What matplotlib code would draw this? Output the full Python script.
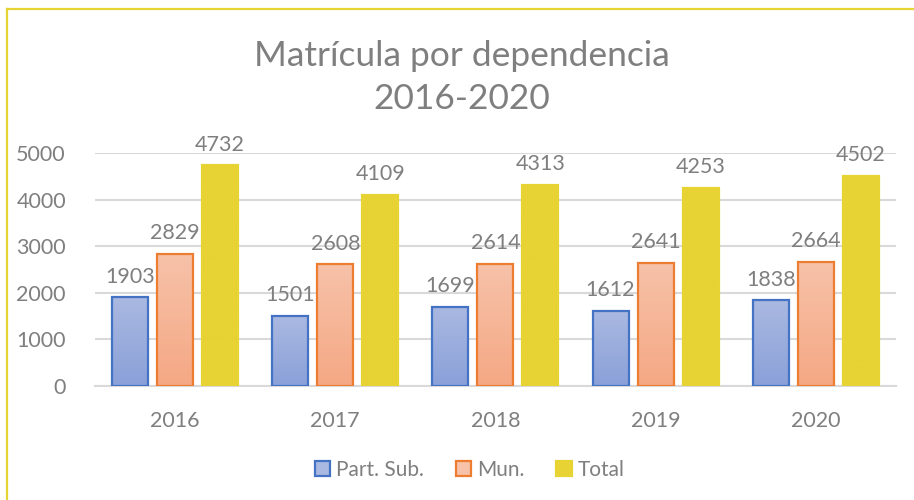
import matplotlib
matplotlib.use("Agg")
import matplotlib.pyplot as plt
import matplotlib.patches as mpatches
from matplotlib.colors import LinearSegmentedColormap
from matplotlib.lines import Line2D
import numpy as np

plt.rcParams["font.family"] = ["Lato", "DejaVu Sans"]

years = ["2016", "2017", "2018", "2019", "2020"]
series_names = ["Part. Sub.", "Mun.", "Total"]
part_sub = [1903, 1501, 1699, 1612, 1838]
mun = [2829, 2608, 2614, 2641, 2664]
total = [4732, 4109, 4313, 4253, 4502]

GRAY = "#7F7F7F"
GRID = "#D9D9D9"
YELLOW = "#E7D333"

# (top colour, bottom colour, edge colour) per series
styles = [
    ("#AAB9E1", "#8AA0D8", "#4472C4"),
    ("#F7C2A9", "#F5A884", "#ED7D31"),
    (YELLOW, YELLOW, YELLOW),
]

fig = plt.figure(figsize=(9.14, 5.0), dpi=100)
ax = fig.add_axes([0.104, 0.228, 0.876, 0.466])

x = np.arange(len(years))
width = 0.225
step = 0.281
grad = np.linspace(0, 1, 256).reshape(-1, 1)

for k, vals in enumerate([part_sub, mun, total]):
    top, bottom, edge = styles[k]
    cmap = LinearSegmentedColormap.from_list(f"g{k}", [top, bottom])
    for xi, v in zip(x, vals):
        x0 = xi + (k - 1) * step - width / 2
        rect = mpatches.Rectangle((x0, 0), width, v, facecolor="none",
                                  edgecolor=edge, linewidth=1.6, zorder=4)
        ax.add_patch(rect)
        im = ax.imshow(grad, cmap=cmap, extent=[x0, x0 + width, 0, v],
                       aspect="auto", origin="upper", zorder=3)
        im.set_clip_path(rect)
        ax.text(xi + (k - 1) * step, v + 230, str(v), ha="center", va="bottom",
                fontsize=15.5, color=GRAY, zorder=5, clip_on=False)

ax.set_xlim(-0.5, 4.5)
ax.set_ylim(0, 5000)
ax.set_yticks(range(0, 5001, 1000))
ax.set_xticks(x)
ax.set_xticklabels(years)
ax.yaxis.grid(True, color=GRID, linewidth=1.5, zorder=0)
ax.set_axisbelow(True)
for s in ["top", "right", "left"]:
    ax.spines[s].set_visible(False)
ax.spines["bottom"].set_color(GRID)
ax.spines["bottom"].set_linewidth(1.5)
ax.tick_params(axis="both", length=0, labelsize=15.5, labelcolor=GRAY)
ax.tick_params(axis="y", pad=21)
ax.tick_params(axis="x", pad=18)

fig.text(0.505, 0.845, "Matrícula por dependencia\n2016-2020", ha="center",
         va="center", fontsize=25.5, color=GRAY, linespacing=1.4)

handles = [mpatches.Patch(facecolor=styles[k][0], edgecolor=styles[k][2],
                          linewidth=1.6) for k in range(3)]
leg = fig.legend(handles, series_names, loc="center", bbox_to_anchor=(0.514, 0.06),
                 ncol=3, frameon=False, fontsize=15, handlelength=0.75,
                 handleheight=0.75, handletextpad=0.3, columnspacing=1.5)
for t in leg.get_texts():
    t.set_color(GRAY)

# yellow frame (top and left sides visible)
fig.add_artist(Line2D([0.0077, 1.0], [0.982, 0.982], color=YELLOW, linewidth=1.6,
                      transform=fig.transFigure))
fig.add_artist(Line2D([0.0077, 0.0077], [0.0, 0.982], color=YELLOW, linewidth=1.6,
                      transform=fig.transFigure))

fig.savefig("out.png", dpi=100)
